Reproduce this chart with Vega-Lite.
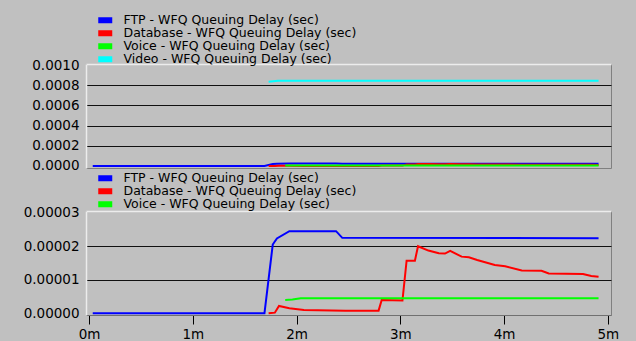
{
  "$schema": "https://vega.github.io/schema/vega-lite/v6.json",
  "background": "#c0c0c0",
  "padding": {"left": 22, "top": 13, "right": 18, "bottom": 1},
  "bounds": "flush",
  "spacing": 43,
  "datasets": {
    "delay": [
      {"s": "FTP", "t": 0.035, "v": 0},
      {"s": "FTP", "t": 1.69, "v": 0},
      {"s": "FTP", "t": 1.77, "v": 0.0000205},
      {"s": "FTP", "t": 1.81, "v": 0.0000223},
      {"s": "FTP", "t": 1.93, "v": 0.0000245},
      {"s": "FTP", "t": 2.38, "v": 0.0000245},
      {"s": "FTP", "t": 2.44, "v": 0.0000225},
      {"s": "FTP", "t": 4.91, "v": 0.0000224},
      {"s": "Database", "t": 1.73, "v": 0},
      {"s": "Database", "t": 1.79, "v": 0.0000002},
      {"s": "Database", "t": 1.83, "v": 0.0000022},
      {"s": "Database", "t": 1.93, "v": 0.0000015},
      {"s": "Database", "t": 2.07, "v": 0.000001},
      {"s": "Database", "t": 2.47, "v": 0.0000008},
      {"s": "Database", "t": 2.79, "v": 0.0000008},
      {"s": "Database", "t": 2.82, "v": 0.000004},
      {"s": "Database", "t": 3.02, "v": 0.0000038},
      {"s": "Database", "t": 3.06, "v": 0.0000157},
      {"s": "Database", "t": 3.14, "v": 0.0000157},
      {"s": "Database", "t": 3.17, "v": 0.00002},
      {"s": "Database", "t": 3.27, "v": 0.0000187},
      {"s": "Database", "t": 3.37, "v": 0.0000179},
      {"s": "Database", "t": 3.43, "v": 0.0000178},
      {"s": "Database", "t": 3.48, "v": 0.0000186},
      {"s": "Database", "t": 3.59, "v": 0.0000169},
      {"s": "Database", "t": 3.66, "v": 0.0000167},
      {"s": "Database", "t": 3.74, "v": 0.0000159},
      {"s": "Database", "t": 3.91, "v": 0.0000144},
      {"s": "Database", "t": 4.01, "v": 0.000014},
      {"s": "Database", "t": 4.17, "v": 0.0000128},
      {"s": "Database", "t": 4.36, "v": 0.0000127},
      {"s": "Database", "t": 4.43, "v": 0.0000119},
      {"s": "Database", "t": 4.76, "v": 0.0000117},
      {"s": "Database", "t": 4.84, "v": 0.0000111},
      {"s": "Database", "t": 4.91, "v": 0.0000109},
      {"s": "Voice", "t": 1.89, "v": 0.000004},
      {"s": "Voice", "t": 1.96, "v": 0.0000041},
      {"s": "Voice", "t": 2.04, "v": 0.0000045},
      {"s": "Voice", "t": 4.91, "v": 0.0000045},
      {"s": "Video", "t": 1.73, "v": 0.000835},
      {"s": "Video", "t": 1.82, "v": 0.000843},
      {"s": "Video", "t": 4.91, "v": 0.000843}
    ]
  },
  "config": {
    "view": {"fill": "#c0c0c0", "stroke": "#808080", "strokeWidth": 1},
    "axis": {
      "labelFont": "DejaVu Sans",
      "labelFontSize": 13.5,
      "labelColor": "#000000",
      "gridColor": "#111111",
      "gridWidth": 1,
      "ticks": false,
      "title": null
    },
    "line": {"strokeWidth": 2}
  },
  "resolve": {"scale": {"color": "independent"}, "legend": {"color": "independent"}},
  "vconcat": [
    {
      "width": 525,
      "height": 104,
      "data": {"name": "delay"},
      "mark": {"type": "line"},
      "encoding": {
        "x": {
          "field": "t",
          "type": "quantitative",
          "scale": {"domain": [-0.03, 5.03], "nice": false, "zero": false},
          "axis": {"orient": "top", "labels": false, "grid": false, "domain": true, "domainColor": "#ececec", "domainWidth": 1.5}
        },
        "y": {
          "field": "v",
          "type": "quantitative",
          "scale": {"domain": [-0.00002, 0.00101], "nice": false, "zero": false},
          "axis": {
            "values": [0, 0.0002, 0.0004, 0.0006, 0.0008, 0.001],
            "format": ".4f",
            "labelPadding": 7,
            "domain": true,
            "domainColor": "#ececec",
            "domainWidth": 1.5,
            "grid": true,
            "gridOpacity": {"condition": {"test": "datum.value <= 0 || datum.value >= 0.001", "value": 0}, "value": 1}
          }
        },
        "color": {
          "field": "s",
          "type": "nominal",
          "scale": {"domain": ["FTP", "Database", "Voice", "Video"], "range": ["#0000ff", "#ff0000", "#00ff00", "#00ffff"]},
          "legend": {
            "orient": "none",
            "legendX": 13,
            "legendY": -50,
            "title": null,
            "padding": 0,
            "labelFont": "DejaVu Sans",
            "labelFontSize": 12.5,
            "labelColor": "#000000",
            "labelOffset": 12,
            "labelLimit": 400,
            "rowPadding": 0,
            "symbolType": "M-1.5,-0.5H1.5V0.5H-1.5Z",
            "symbolSize": 64,
            "symbolStrokeWidth": 4,
            "symbolOpacity": 1,
            "symbolFillColor": {"expr": "datum.value == 'FTP' ? '#0000ff' : datum.value == 'Database' ? '#ff0000' : datum.value == 'Voice' ? '#00ff00' : '#00ffff'"},
            "labelExpr": "datum.label + ' - WFQ Queuing Delay (sec)'"
          }
        }
      }
    },
    {
      "width": 525,
      "height": 104,
      "data": {"name": "delay"},
      "transform": [{"filter": "datum.s != 'Video'"}],
      "resolve": {"axis": {"x": "independent"}},
      "layer": [
        {
          "transform": [{"filter": "datum.s != 'Voice'"}],
          "mark": {"type": "line"},
          "encoding": {
            "x": {
              "field": "t",
              "type": "quantitative",
              "scale": {"domain": [-0.03, 5.03], "nice": false, "zero": false},
              "axis": {
                "values": [0, 1, 2, 3, 4, 5],
                "labelExpr": "datum.value + 'm'",
                "grid": false,
                "domain": true,
                "domainColor": "#707070",
                "ticks": true,
                "tickColor": "#000000",
                "tickSize": 9,
                "labelPadding": 3
              }
            },
            "y": {
              "field": "v",
              "type": "quantitative",
              "scale": {"domain": [-0.0000005, 0.0000305], "nice": false, "zero": false},
              "axis": {
                "values": [0, 0.00001, 0.00002, 0.00003],
                "format": ".5f",
                "labelPadding": 7,
                "domain": true,
                "domainColor": "#ececec",
                "domainWidth": 1.5,
                "grid": true,
                "gridOpacity": {"condition": {"test": "datum.value <= 0 || datum.value >= 0.000025", "value": 0}, "value": 1}
              }
            },
            "color": {
              "field": "s",
              "type": "nominal",
              "scale": {"domain": ["FTP", "Database", "Voice"], "range": ["#0000ff", "#ff0000", "#00ff00"]},
              "legend": {
                "orient": "none",
                "legendX": 13,
                "legendY": -39,
                "title": null,
                "padding": 0,
                "labelFont": "DejaVu Sans",
                "labelFontSize": 12.5,
                "labelColor": "#000000",
                "labelOffset": 12,
                "labelLimit": 400,
                "rowPadding": 0,
                "symbolType": "M-1.5,-0.5H1.5V0.5H-1.5Z",
                "symbolSize": 64,
                "symbolStrokeWidth": 4,
                "symbolOpacity": 1,
                "symbolFillColor": {"expr": "datum.value == 'FTP' ? '#0000ff' : datum.value == 'Database' ? '#ff0000' : '#00ff00'"},
                "labelExpr": "datum.label + ' - WFQ Queuing Delay (sec)'"
              }
            }
          }
        },
        {
          "transform": [{"filter": "datum.s == 'Voice'"}],
          "mark": {"type": "line"},
          "encoding": {
            "x": {
              "field": "t",
              "type": "quantitative",
              "axis": {"orient": "top", "labels": false, "grid": false, "domain": true, "domainColor": "#ececec", "domainWidth": 1.5}
            },
            "y": {
              "field": "v",
              "type": "quantitative",
              "axis": {
                "values": [0, 0.00001, 0.00002, 0.00003],
                "format": ".5f",
                "labelPadding": 7,
                "domain": true,
                "domainColor": "#ececec",
                "domainWidth": 1.5,
                "grid": true,
                "gridOpacity": {"condition": {"test": "datum.value <= 0 || datum.value >= 0.000025", "value": 0}, "value": 1}
              }
            },
            "color": {"field": "s", "type": "nominal"}
          }
        }
      ]
    }
  ]
}
